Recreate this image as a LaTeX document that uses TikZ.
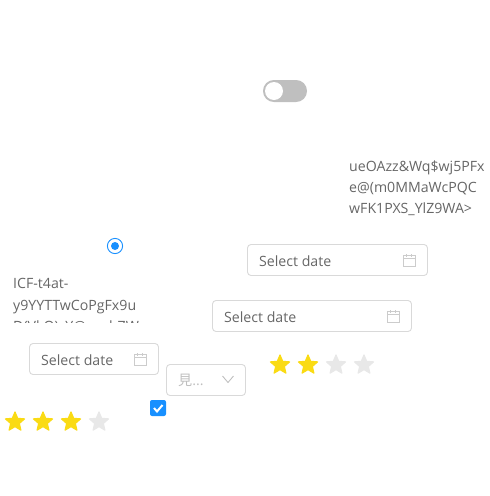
\documentclass[tikz,border=0pt]{standalone}
\usepackage{fontspec}
\setmainfont{Open Sans}
\newfontfamily\cjkfont{Noto Sans CJK JP}
\usetikzlibrary{shapes.geometric}
\definecolor{txtgray}{HTML}{666666}
\definecolor{boxgray}{HTML}{D9D9D9}
\definecolor{hintgray}{HTML}{BFBFBF}
\definecolor{antblue}{HTML}{1890FF}
\definecolor{stargold}{HTML}{FADB14}
\definecolor{staroff}{HTML}{E8E8E8}
\tikzset{
  txt/.style={anchor=base west,inner sep=0pt,text=txtgray,font=\fontsize{14.15}{14}\selectfont},
  datebox/.style={draw=boxgray,line width=0.9pt,rounded corners=3.5pt},
  staricon/.style={star,star points=5,star point ratio=2.2,minimum size=20pt,inner sep=0pt,line join=round,line width=1.2pt},
  calicon/.style={draw=hintgray!80,line width=0.8pt}
}
% calendar icon, #1 = left top corner
\newcommand{\calicon}[1]{
  \draw[calicon] (#1)+(0,1.5) rectangle +(12,12);
  \draw[calicon] (#1)+(0,4.5) -- +(12,4.5);
  \draw[calicon] (#1)+(3.2,0) -- +(3.2,3);
  \draw[calicon] (#1)+(8.8,0) -- +(8.8,3);
}
\begin{document}
\begin{tikzpicture}[x=1pt,y=-1pt]
  \useasboundingbox (0,0) rectangle (490,496);
  % switch
  \fill[hintgray,rounded corners=10.9pt] (263,80) rectangle (307,102);
  \fill[white] (274,91) circle(9);
  % radio
  \draw[antblue,line width=0.9pt,fill=white] (115,246) circle(7.6);
  \fill[antblue] (115,246) circle(4);
  % texts
  \node[txt] (wrapa) at (349,171) {ueOAzz\&Wq\$wj5PFx};
  \node[txt] (wrapb) at (349,192) {e@(m0MMaWcPQC};
  \node[txt] (wrapc) at (349,213) {wFK1PXS\_YlZ9WA>};
  \node[txt] (icfa) at (13,288) {ICF-t4at-};
  \node[txt] (icfb) at (13,310) {y9YYTTwCoPgFx9u};
  \begin{scope}
    \clip (0,280) rectangle (170,322);
    \node[txt] (icfc) at (13,331) {D(VkO)zY@oqrb7W};
  \end{scope}
  % date pickers
  \draw[datebox] (247.5,244.5) rectangle (427.5,275.5);
  \node[txt] (datea) at (259,266) {Select date};
  \calicon{403,254}
  \draw[datebox] (212.5,300.5) rectangle (411.5,331.5);
  \node[txt] (dateb) at (224,322) {Select date};
  \calicon{387,310}
  \draw[datebox] (29.5,343.5) rectangle (158.5,374.5);
  \node[txt] (datec) at (41,365) {Select date};
  \calicon{134,353}
  % disabled select
  \draw[datebox] (166.5,364.5) rectangle (245.5,395.5);
  \node[txt,text=hintgray] (selecta) at (178,385) {{\cjkfont 見}...};
  \draw[hintgray,line width=0.9pt] (222.5,376) -- (228,382.5) -- (233.5,376);
  % checkbox
  \fill[antblue,rounded corners=2pt] (150,400) rectangle (166,416);
  \draw[white,line width=2pt] (154,408) -- (157,411.5) -- (162.5,405);
  % stars
  \foreach \i/\c in {15/stargold,43/stargold,71/stargold,99/staroff}
    \node[staricon,fill=\c,draw=\c] (stara\i) at (\i,422) {};
  \foreach \i/\c in {280/stargold,308/stargold,336/staroff,364/staroff}
    \node[staricon,fill=\c,draw=\c] (starb\i) at (\i,365) {};
\end{tikzpicture}
\end{document}
